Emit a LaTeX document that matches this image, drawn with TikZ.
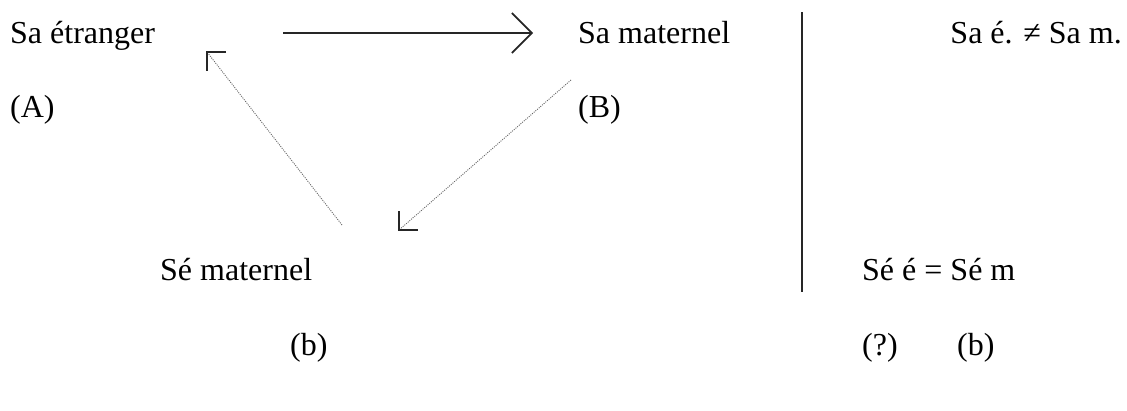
\documentclass[tikz,border=0pt]{standalone}
\usepackage{fontspec}
\setmainfont{Liberation Serif}
\usetikzlibrary{arrows.meta}
\begin{document}
\begin{tikzpicture}[x=1bp,y=-1bp,
  lbl/.style={anchor=base west,inner sep=0pt,font=\fontsize{32bp}{38bp}\selectfont},
  lblr/.style={anchor=base east,inner sep=0pt,font=\fontsize{32bp}{38bp}\selectfont},
  mainarrow/.style={line width=1.6bp,color=black!85,-{Straight Barb[length=20bp,width=40bp]}},
  dotline/.style={line width=0.9bp,color=black!60,dash pattern=on 1bp off 1.2bp},
  corner/.style={line width=2.2bp,color=black!85,line cap=butt},
  sep/.style={line width=2.2bp,color=black!85}]
\useasboundingbox (0,0) rectangle (1127,410);
% left group
\node[lbl] (se) at (10,43) {Sa étranger};
\node[lbl] (A) at (10,117) {(A)};
\node[lbl] (sm) at (578,43) {Sa maternel};
\node[lbl] (B) at (578,117) {(B)};
\node[lbl] (sem) at (160,280) {Sé maternel};
\node[lbl] (b1) at (290,355) {(b)};
% right group
\node[lblr] (neq) at (1122,43) {Sa é. ≠ Sa m.};
\node[lbl] (eq) at (862,280) {Sé é = Sé m};
\node[lbl] (q) at (862,355) {(?)};
\node[lbl] (b2) at (957,355) {(b)};
% main arrow
\coordinate (m1) at (283,33);
\coordinate (m2) at (533,33);
\draw[mainarrow] (m1) -- (m2);
% dotted arrow 1 (towards Sa etranger)
\coordinate (d1s) at (342,225);
\coordinate (d1e) at (207,52);
\draw[dotline] (d1s) -- (d1e);
\draw[corner] ([xshift=19bp]d1e) -- (d1e) -- ([yshift=-19bp]d1e);
% dotted arrow 2 (towards Se maternel)
\coordinate (d2s) at (571,80);
\coordinate (d2e) at (399,230);
\draw[dotline] (d2s) -- (d2e);
\draw[corner] ([yshift=19bp]d2e) -- (d2e) -- ([xshift=19bp]d2e);
% separator
\coordinate (v1) at (802,12);
\coordinate (v2) at (802,292);
\draw[sep] (v1) -- (v2);
\end{tikzpicture}
\end{document}
